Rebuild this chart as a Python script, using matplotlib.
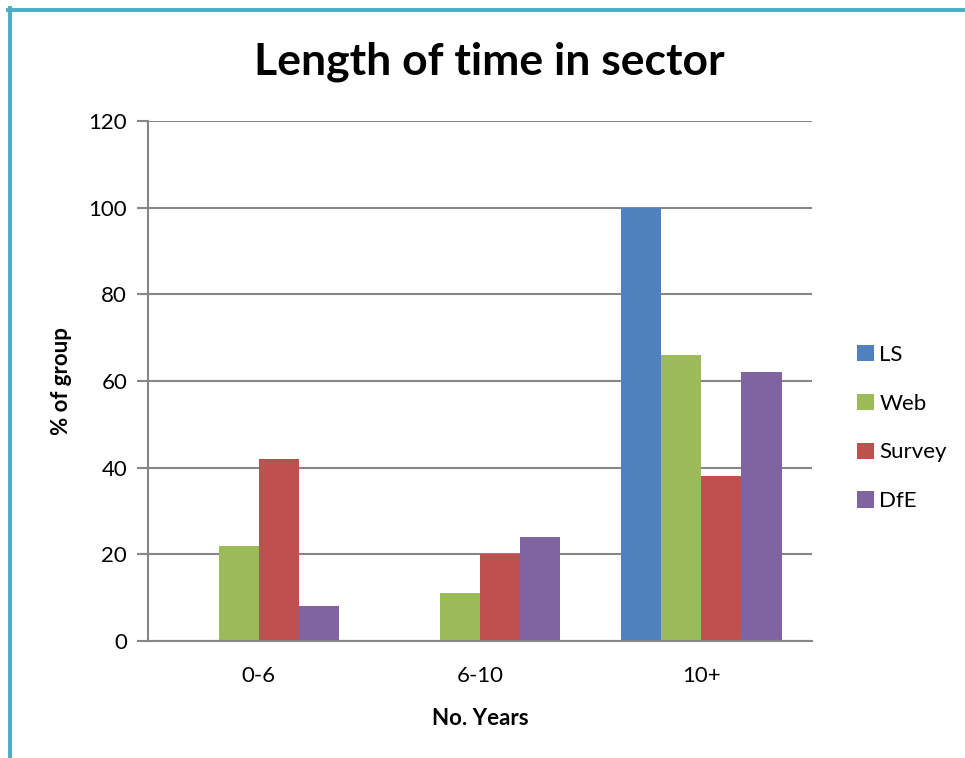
import numpy as np
import matplotlib
matplotlib.use("Agg")
import matplotlib.pyplot as plt
from matplotlib.lines import Line2D

plt.rcParams['font.family'] = ['Lato', 'DejaVu Sans']

categories = ['0-6', '6-10', '10+']
series_names = ['LS', 'Web', 'Survey', 'DfE']
ls_vals = [0, 0, 100]
web_vals = [22, 11, 66]
survey_vals = [42, 20, 38]
dfe_vals = [8, 24, 62]
colours = ['#4F81BD', '#9BBB59', '#C0504D', '#8064A2']
yticks = [0, 20, 40, 60, 80, 100, 120]

fig = plt.figure(figsize=(9.65, 7.58), dpi=100)
ax = fig.add_axes([0.1534, 0.1544, 0.6881, 0.686])

x = np.arange(len(categories))
w = 0.181
all_vals = [ls_vals, web_vals, survey_vals, dfe_vals]
for i, (vals, col, name) in enumerate(zip(all_vals, colours, series_names)):
    ax.bar(x + (i - 1.5) * w, vals, width=w, color=col, label=name, zorder=3)

ax.set_xlim(-0.5, 2.5)
ax.set_ylim(0, 120)
ax.set_yticks(yticks)
ax.set_xticks(x)
ax.set_xticklabels(categories)
ax.yaxis.grid(True, color='#868686', linewidth=1.5, zorder=0)
for s in ['top', 'right']:
    ax.spines[s].set_visible(False)
ax.spines['left'].set_color('#868686')
ax.spines['bottom'].set_color('#868686')
ax.spines['left'].set_linewidth(1.5)
ax.spines['bottom'].set_linewidth(1.5)
ax.spines['bottom'].set_zorder(4)
ax.tick_params(axis='y', length=8, width=1.5, color='#868686', labelsize=16, pad=7)
ax.tick_params(axis='x', length=0, labelsize=16, pad=18)

ax.set_xlabel('No. Years', fontsize=16, fontweight='bold', labelpad=16)
ax.set_ylabel('% of group', fontsize=16, fontweight='bold', labelpad=12)
fig.text(0.5073, 0.918, 'Length of time in sector', ha='center', va='center',
         fontsize=32, fontweight='bold')

ax.legend(loc='center left', bbox_to_anchor=(857 / 965 - 0.009, 1 - 428 / 758),
          bbox_transform=fig.transFigure, frameon=False, borderaxespad=0,
          fontsize=16, handlelength=0.75, handleheight=0.75, labelspacing=1.3,
          handletextpad=0.25)

# frame lines on the left and top
fig.add_artist(Line2D([9.5 / 965, 9.5 / 965], [0, 1 - 8 / 758], color='#4BACC6',
                      linewidth=2.8, transform=fig.transFigure))
fig.add_artist(Line2D([8 / 965, 1], [1 - 9.5 / 758, 1 - 9.5 / 758], color='#4BACC6',
                      linewidth=2.8, transform=fig.transFigure))

fig.savefig('out.png', dpi=100)
